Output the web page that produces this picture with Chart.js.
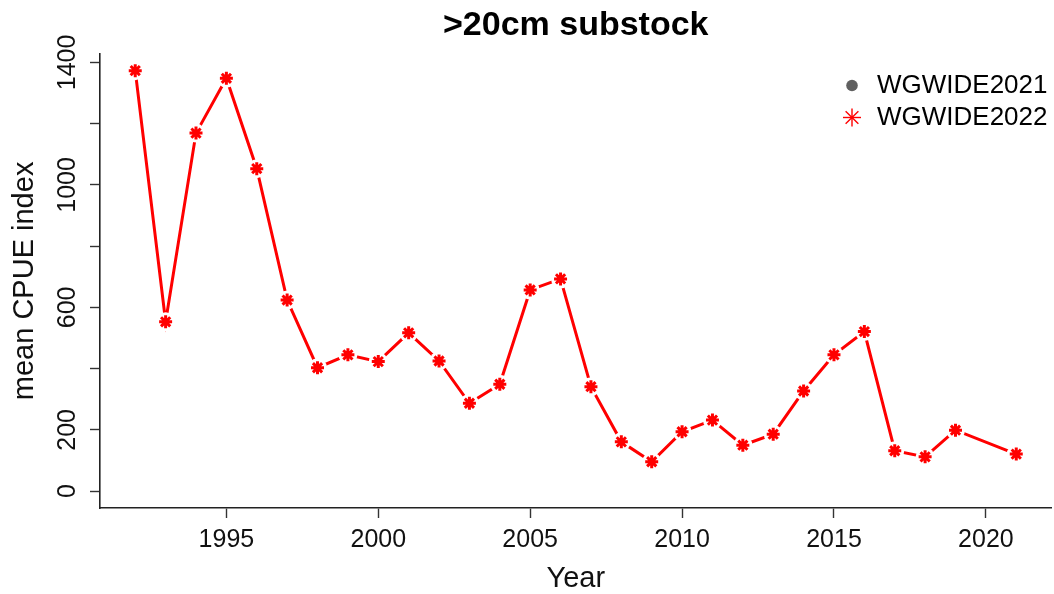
<!DOCTYPE html>
<html>
<head>
<meta charset="utf-8">
<script src="https://cdn.jsdelivr.net/npm/chart.js@4/dist/chart.umd.min.js"></script>
<style>
  html, body { margin: 0; padding: 0; background: #fff; overflow: hidden; }
  #wrap { width: 1061px; height: 594px; }
</style>
</head>
<body>
<div id="wrap"><canvas id="cpueChart" width="1061" height="594"></canvas></div>
<script>
const seriesNames = ['WGWIDE2021', 'WGWIDE2022'];

// WGWIDE2022 has no 2020 value, the line goes straight from 2019 to 2021
const years2022 = [1992, 1993, 1994, 1995, 1996, 1997, 1998, 1999, 2000, 2001,
                   2002, 2003, 2004, 2005, 2006, 2007, 2008, 2009, 2010, 2011,
                   2012, 2013, 2014, 2015, 2016, 2017, 2018, 2019, 2021];
const cpue2022 = [1373, 553, 1169, 1348, 1053, 624, 403, 445, 423, 517,
                  425, 287, 349, 657, 693, 341, 161, 96, 194, 232,
                  150, 186, 327, 445, 521, 132, 112, 199, 121];

// previous assessment, sits underneath the 2022 markers
const years2021 = [1992, 1993, 1994, 1995, 1996, 1997, 1998, 1999, 2000, 2001,
                   2002, 2003, 2004, 2005, 2006, 2007, 2008, 2009, 2010, 2011,
                   2012, 2013, 2014, 2015, 2016, 2017, 2018, 2019];
const cpue2021 = [1373, 553, 1169, 1348, 1053, 624, 403, 445, 423, 517,
                  425, 287, 349, 657, 693, 341, 161, 96, 194, 232,
                  150, 186, 327, 445, 521, 132, 112, 199];

const xTicks = [1995, 2000, 2005, 2010, 2015, 2020];
const yTicks = [0, 200, 400, 600, 800, 1000, 1200, 1400];
const yLabeled = [0, 200, 600, 1000, 1400];

const FONT = '"Liberation Sans", Arial, sans-serif';
Chart.defaults.font.family = FONT;
Chart.defaults.color = '#000';

function toPoints(xs, ys) {
    return xs.map((x, i) => ({ x: x, y: ys[i] }));
}

const pts2022 = toPoints(years2022, cpue2022);
const pts2021 = toPoints(years2021, cpue2021);

// R style legend in the top right corner
const legendPlugin = {
    id: 'rLegend',
    afterDraw(chart) {
        const ctx = chart.ctx;
        ctx.save();
        ctx.fillStyle = '#606060';
        ctx.beginPath();
        ctx.arc(852, 85.5, 5.8, 0, Math.PI * 2);
        ctx.fill();

        ctx.strokeStyle = '#ff0000';
        ctx.lineWidth = 1.4;
        const cx = 852, cy = 117.5, r = 9;
        for (let k = 0; k < 4; k++) {
            const a = k * Math.PI / 4;
            ctx.beginPath();
            ctx.moveTo(cx - r * Math.cos(a), cy - r * Math.sin(a));
            ctx.lineTo(cx + r * Math.cos(a), cy + r * Math.sin(a));
            ctx.stroke();
        }

        ctx.fillStyle = '#000';
        ctx.font = '26px ' + FONT;
        ctx.textAlign = 'left';
        ctx.textBaseline = 'middle';
        ctx.fillText(seriesNames[0], 877, 86);
        ctx.fillText(seriesNames[1], 877, 117.5);
        ctx.restore();
    }
};

new Chart(document.getElementById('cpueChart'), {
    type: 'scatter',
    data: {
        datasets: [
            {
                label: seriesNames[1],
                data: pts2022,
                showLine: false,
                pointStyle: 'star',
                pointRadius: 6.5,
                pointBorderWidth: 3,
                pointBorderColor: '#ff0000',
                pointBackgroundColor: '#ff0000'
            },
            {
                // white halo so the line stops short of each marker, like type="b"
                label: 'gap',
                data: pts2022,
                showLine: false,
                pointStyle: 'circle',
                pointRadius: 9.5,
                pointBorderWidth: 0,
                pointBackgroundColor: '#ffffff'
            },
            {
                label: 'line',
                data: pts2022,
                showLine: true,
                borderColor: '#ff0000',
                borderWidth: 3,
                pointRadius: 0,
                tension: 0
            },
            {
                label: seriesNames[0],
                data: pts2021,
                showLine: false,
                pointStyle: 'circle',
                pointRadius: 5.5,
                pointBorderWidth: 0,
                pointBackgroundColor: '#606060'
            }
        ]
    },
    options: {
        responsive: false,
        animation: false,
        events: [],
        layout: { padding: 0 },
        plugins: {
            legend: { display: false },
            tooltip: { enabled: false },
            title: {
                display: true,
                text: '>20cm substock',
                fullSize: false,
                color: '#000',
                font: { size: 34, weight: 'bold', family: FONT, lineHeight: 1.2 },
                padding: { top: 5, bottom: 8 }
            }
        },
        scales: {
            x: {
                type: 'linear',
                min: 1990.84,
                max: 2022.16,
                afterBuildTicks: scale => { scale.ticks = xTicks.map(v => ({ value: v })); },
                afterFit: scale => { scale.height = 86; },
                border: { display: true, color: '#222', width: 1.6 },
                grid: { drawOnChartArea: false, drawTicks: true, tickLength: 10, tickWidth: 1.4, tickColor: '#333' },
                ticks: {
                    autoSkip: false,
                    maxRotation: 0,
                    padding: 7,
                    color: '#111',
                    font: { size: 25, family: FONT, lineHeight: 1.2 },
                    callback: v => String(v)
                },
                title: {
                    display: true,
                    text: 'Year',
                    color: '#111',
                    font: { size: 29, family: FONT, lineHeight: 1.2 },
                    padding: { top: 0, bottom: -2 }
                }
            },
            y: {
                type: 'linear',
                min: -55,
                max: 1428,
                afterBuildTicks: scale => { scale.ticks = yTicks.map(v => ({ value: v })); },
                afterFit: scale => { scale.width = 100; },
                border: { display: true, color: '#222', width: 1.6 },
                grid: { drawOnChartArea: false, drawTicks: true, tickLength: 10, tickWidth: 1.4, tickColor: '#333' },
                ticks: {
                    minRotation: 90,
                    maxRotation: 90,
                    crossAlign: 'center',
                    padding: -6,
                    color: '#111',
                    font: { size: 25, family: FONT, lineHeight: 1.2 },
                    callback: v => yLabeled.includes(v) ? String(v) : ''
                },
                title: {
                    display: true,
                    text: 'mean CPUE index',
                    color: '#111',
                    font: { size: 29, family: FONT, lineHeight: 1.2 },
                    padding: { top: 8, bottom: 0 }
                }
            }
        }
    },
    plugins: [legendPlugin]
});
</script>
</body>
</html>
